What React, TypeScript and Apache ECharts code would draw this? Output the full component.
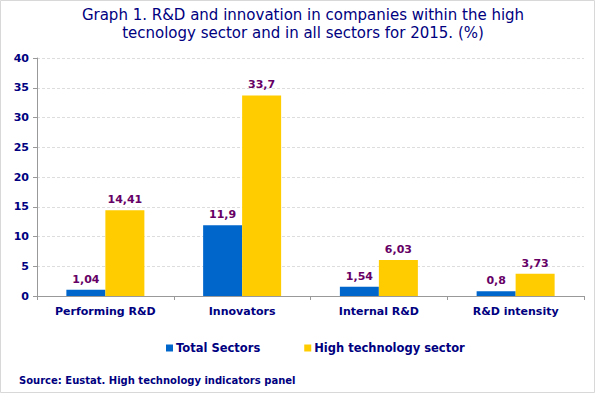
import React, { useEffect, useRef } from "react";
import * as echarts from "echarts";

const categories = ["Performing R&D", "Innovators", "Internal R&D", "R&D intensity"];
const totalSectors = [1.04, 11.9, 1.54, 0.8];
const highTech = [14.41, 33.7, 6.03, 3.73];
const seriesNames = ["Total Sectors", "High technology sector"];
const titleText = "Graph 1. R&D and innovation in companies within the high\ntecnology sector and in all sectors for 2015. (%)";
const sourceText = "Source: Eustat. High technology indicators panel";

const FONT = "'DejaVu Sans', Verdana, sans-serif";
const fmt = (v: number) => String(v).replace(".", ",");

export default function App() {
  const ref = useRef<HTMLDivElement>(null);
  useEffect(() => {
    document.body.style.margin = "0";
    const chart = echarts.init(ref.current!, null, { renderer: "svg" });
    const label = {
      show: true,
      position: "top" as const,
      distance: 5,
      color: "#660066",
      fontWeight: "bold" as const,
      fontSize: 11,
      fontFamily: FONT,
      formatter: (p: any) => fmt(p.value),
    };
    chart.setOption({
      animation: false,
      backgroundColor: "#ffffff",
      textStyle: { fontFamily: FONT },
      title: {
        text: titleText,
        left: 303,
        textAlign: "center",
        top: 6,
        padding: 0,
        textStyle: { color: "#000080", fontSize: 15, fontWeight: "normal", fontFamily: FONT, lineHeight: 18 },
      },
      legend: {
        data: seriesNames,
        top: 342,
        left: 166,
        padding: 0,
        itemWidth: 7,
        itemHeight: 7,
        itemGap: 44,
        icon: "rect",
        textStyle: { color: "#000080", fontWeight: "bold", fontSize: 11.5, fontFamily: FONT, padding: [0, 0, 0, -2] },
      },
      grid: { left: 37, right: 13, top: 58, bottom: 99, containLabel: false },
      xAxis: {
        type: "category",
        data: categories,
        axisLine: { lineStyle: { color: "#999999" } },
        axisTick: { show: true, lineStyle: { color: "#999999" }, length: 4 },
        axisLabel: { interval: 0, color: "#000080", fontWeight: "bold", fontSize: 11, fontFamily: FONT, margin: 10 },
      },
      yAxis: {
        type: "value",
        min: 0,
        max: 40,
        interval: 5,
        axisLine: { show: true, lineStyle: { color: "#999999" } },
        axisTick: { show: true, inside: false, length: 4, lineStyle: { color: "#999999" } },
        axisLabel: { color: "#000080", fontWeight: "bold", fontSize: 11, fontFamily: FONT, margin: 8 },
        splitLine: { lineStyle: { color: "#dddddd", type: [3, 2] } },
      },
      series: [
        {
          name: seriesNames[0],
          type: "bar",
          data: totalSectors,
          barWidth: 39,
          barGap: "0%",
          itemStyle: { color: "#0066CC" },
          label,
        },
        {
          name: seriesNames[1],
          type: "bar",
          data: highTech,
          barWidth: 39,
          barGap: "0%",
          itemStyle: { color: "#FFCC00" },
          label,
        },
      ],
      graphic: [
        {
          type: "rect",
          shape: { x: 0.5, y: 0.5, width: 594, height: 392 },
          style: { fill: "none", stroke: "#d8d8d8", lineWidth: 1 },
          silent: true,
        },
        {
          type: "text",
          left: 19,
          top: 375,
          style: { text: sourceText, fill: "#000080", font: `bold 10px ${FONT}` },
        },
      ],
    });
    return () => chart.dispose();
  }, []);
  return <div ref={ref} style={{ width: 597, height: 395 }} />;
}
